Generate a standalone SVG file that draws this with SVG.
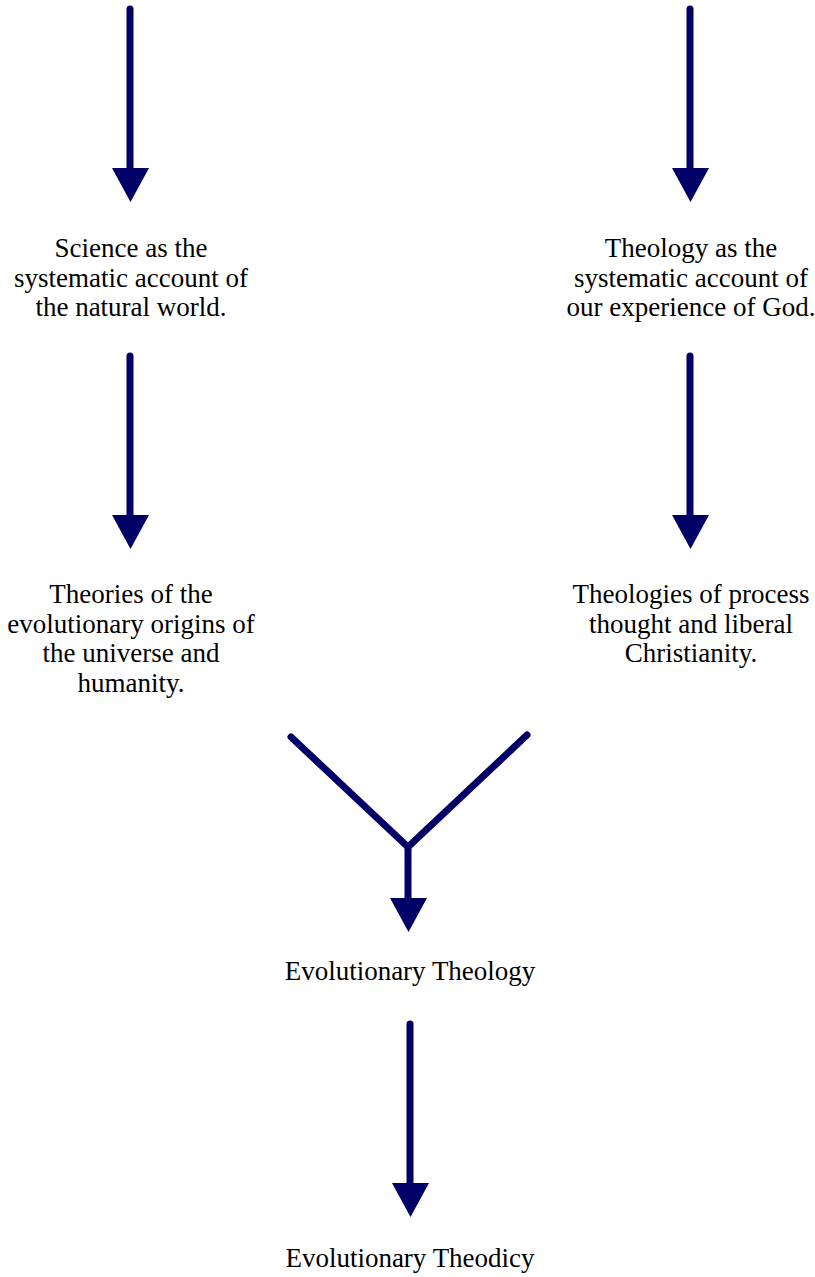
<svg xmlns="http://www.w3.org/2000/svg" width="815" height="1277" viewBox="0 0 815 1277">
<style>
.ln{stroke:#000066;stroke-width:7;stroke-linecap:round;fill:none}
.hd{fill:#000066}
text{font-family:"Liberation Serif","Times New Roman",serif;font-size:27px;fill:#000;text-anchor:middle}
</style>
<rect width="815" height="1277" fill="#fff"/>
<g id="connectors">
<line class="ln" x1="130" y1="9" x2="130" y2="175"/><polygon class="hd" points="112,168 149,168 130.5,202"/>
<line class="ln" x1="690" y1="9" x2="690" y2="175"/><polygon class="hd" points="672,168 709,168 690.5,202"/>
<line class="ln" x1="130" y1="356" x2="130" y2="522"/><polygon class="hd" points="112,515 149,515 130.5,549"/>
<line class="ln" x1="690" y1="356" x2="690" y2="522"/><polygon class="hd" points="672,515 709,515 690.5,549"/>
<polyline class="ln" points="291,737 408,847 527,735" stroke-linejoin="round"/>
<line class="ln" x1="408" y1="847" x2="408" y2="905"/><polygon class="hd" points="390,898 427,898 408.5,932"/>
<line class="ln" x1="410" y1="1024" x2="410" y2="1190"/><polygon class="hd" points="392,1183 429,1183 410.5,1217"/>
</g>
<g id="science"><text x="131" y="257">Science as the</text><text x="131" y="286.5">systematic account of</text><text x="131" y="316">the natural world.</text></g>
<g id="theology"><text x="691" y="257">Theology as the</text><text x="691" y="286.5">systematic account of</text><text x="691" y="316">our experience of God.</text></g>
<g id="theories"><text x="131" y="603">Theories of the</text><text x="131" y="632.5">evolutionary origins of</text><text x="131" y="662">the universe and</text><text x="131" y="691.5">humanity.</text></g>
<g id="theologies"><text x="691" y="603">Theologies of process</text><text x="691" y="632.5">thought and liberal</text><text x="691" y="662">Christianity.</text></g>
<g id="evo-theology"><text x="410" y="980">Evolutionary Theology</text></g>
<g id="evo-theodicy"><text x="410" y="1267">Evolutionary Theodicy</text></g>
</svg>
